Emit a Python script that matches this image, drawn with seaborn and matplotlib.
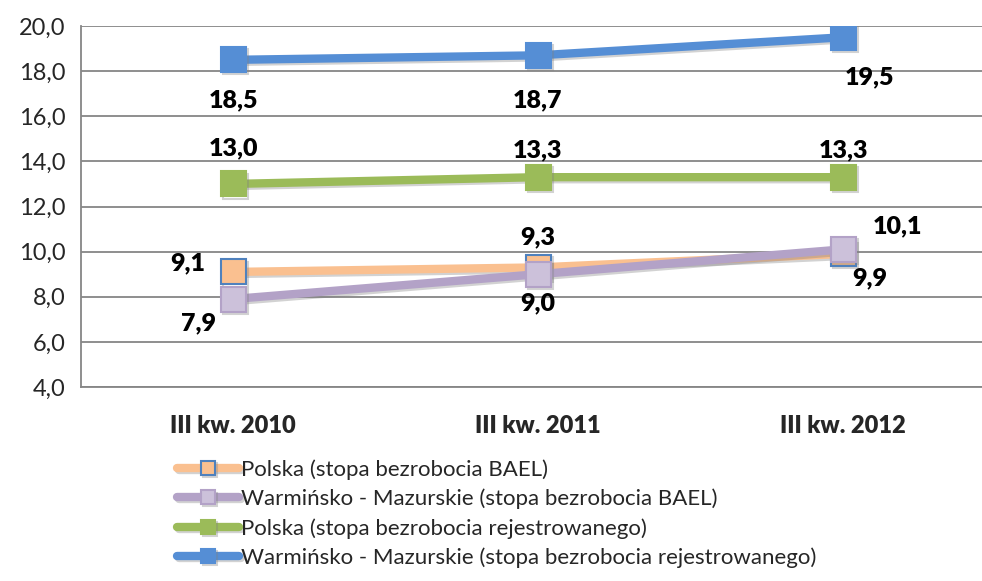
import pandas as pd
import seaborn as sns
import matplotlib.pyplot as plt
import matplotlib.patheffects as pe

# Data
quarters = ["III kw. 2010", "III kw. 2011", "III kw. 2012"]
polska_bael = [9.1, 9.3, 9.9]
wm_bael = [7.9, 9.0, 10.1]
polska_rej = [13.0, 13.3, 13.3]
wm_rej = [18.5, 18.7, 19.5]

series_names = [
    "Polska (stopa bezrobocia BAEL)",
    "Warmińsko - Mazurskie (stopa bezrobocia BAEL)",
    "Polska (stopa bezrobocia rejestrowanego)",
    "Warmińsko - Mazurskie (stopa bezrobocia rejestrowanego)",
]
series_values = [polska_bael, wm_bael, polska_rej, wm_rej]

rows = []
for name, vals in zip(series_names, series_values):
    for i, (q, v) in enumerate(zip(quarters, vals)):
        rows.append({"series": name, "quarter": q, "pos": i, "value": v})
df = pd.DataFrame(rows)

# Styles: line colour, marker face, marker edge
styles = {
    series_names[0]: ("#FAC090", "#FAC090", "#4F81BD"),
    series_names[1]: ("#B3A2C7", "#CCC1DA", "#B3A2C7"),
    series_names[2]: ("#9BBB59", "#9BBB59", "#9BBB59"),
    series_names[3]: ("#558ED5", "#558ED5", "#558ED5"),
}
# label offsets in pixels (dx, dy)
offsets = {
    series_names[0]: [(-45, 9), (0, 30), (27, -24)],
    series_names[1]: [(-35, -24), (0, -29), (55, 23)],
    series_names[2]: [(0, 36), (0, 27), (0, 27)],
    series_names[3]: [(0, -40), (0, -45), (27, -40)],
}

sns.set_style("white")
plt.rcParams["font.family"] = ["Lato", "DejaVu Sans"]

fig = plt.figure(figsize=(9.82, 5.81), dpi=100)
ax = fig.add_axes([80.5 / 982, 1 - 387 / 581, 915 / 982, 361 / 581])

shadow = [pe.SimpleLineShadow(offset=(1.5, -1.5), shadow_color="gray", alpha=0.35), pe.Normal()]

for name in series_names:
    sub = df[df["series"] == name]
    lc, mfc, mec = styles[name]
    sns.lineplot(data=sub, x="pos", y="value", ax=ax, color=lc, linewidth=6,
                 marker="s", markersize=18, markerfacecolor=mfc, markeredgecolor=mec,
                 markeredgewidth=1.5, sort=False, label=name, legend=False,
                 path_effects=shadow)
    for (i, v), (dx, dy) in zip(enumerate(sub["value"]), offsets[name]):
        ax.annotate(f"{v:.1f}".replace(".", ","), (i, v), xytext=(dx, dy),
                    textcoords="offset pixels", ha="center", va="center",
                    fontsize=18, fontweight="heavy", color="black")

ax.set_xlim(-0.5, 2.5)
ax.set_ylim(4, 20)
ax.set_yticks(range(4, 21, 2))
ax.set_yticklabels([f"{t:.1f}".replace(".", ",") for t in range(4, 21, 2)], fontsize=17)
ax.set_xticks(range(len(quarters)))
ax.set_xticklabels(quarters, fontsize=17, fontweight="heavy")
ax.set_xticks([-0.5, 0.5, 1.5, 2.5], minor=True)
ax.tick_params(axis="x", which="major", length=0, pad=20)
ax.tick_params(axis="x", which="minor", length=6, color="#868686", width=1.2)
ax.tick_params(axis="y", length=6, color="#868686", width=1.2, pad=5)
ax.set_xlabel("")
ax.set_ylabel("")
ax.grid(axis="y", color="#868686", linewidth=1.3)
ax.set_axisbelow(True)
for s in ["top", "right"]:
    ax.spines[s].set_visible(False)
for s in ["left", "bottom"]:
    ax.spines[s].set_color("#868686")
    ax.spines[s].set_linewidth(1.3)

handles, labels = ax.get_legend_handles_labels()
fig.legend(handles, labels, loc="upper left", bbox_to_anchor=(177 / 982, 1 - 459 / 581),
           frameon=False, fontsize=16, handlelength=2.8, handletextpad=0.1,
           labelspacing=0.4, borderpad=0, borderaxespad=0, markerscale=0.55)

plt.savefig("out.png", dpi=100)
